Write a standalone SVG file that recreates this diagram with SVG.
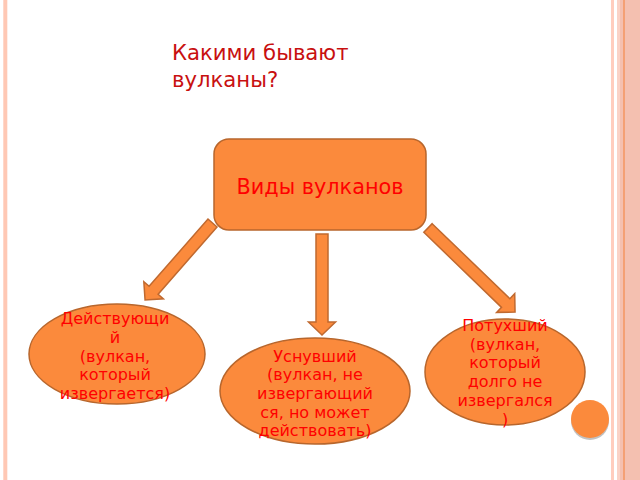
<svg xmlns="http://www.w3.org/2000/svg" width="640" height="480" viewBox="0 0 640 480">
  <defs>
    <style>
      .shape { fill: #FB8A3C; stroke: #B8662C; stroke-width: 1.5; }
      .arrow { fill: #FB8A3C; stroke: #C0692F; stroke-width: 1.5; stroke-linejoin: miter; }
      .title { font-family: "DejaVu Sans", sans-serif; font-size: 21.2px; fill: #C81010; }
      .main { font-family: "DejaVu Sans", sans-serif; font-size: 20.8px; fill: #FF0000; text-anchor: middle; }
      .lbl { font-family: "DejaVu Sans", sans-serif; font-size: 16px; fill: #FF0000; text-anchor: middle; }
    </style>
  </defs>

  <!-- background and frame -->
  <rect x="0" y="0" width="640" height="480" fill="#FFFFFF"/>
  <rect x="3.3" y="0" width="4" height="480" fill="#FFC8B4"/>
  <rect x="611" y="0" width="3" height="480" fill="#FFCDBE"/>
  <rect x="617" y="0" width="3" height="480" fill="#FAD2C6"/>
  <rect x="620" y="0" width="20" height="480" fill="#F4C0B0"/>
  <rect x="623" y="0" width="2" height="480" fill="#F4A074"/>

  <!-- title -->
  <g id="title">
    <text class="title" x="172" y="60">Какими бывают</text>
    <text class="title" x="172" y="87">вулканы?</text>
  </g>

  <!-- connectors -->
  <g id="connectors">
    <polygon class="arrow" transform="translate(212.5,223) rotate(131.2)" points="0,-6 89.4,-6 89.4,-13 102.4,0 89.4,13 89.4,6 0,6"/>
    <polygon class="arrow" transform="translate(322,234) rotate(90)" points="0,-6 88,-6 88,-13.5 101,0 88,13.5 88,6 0,6"/>
    <polygon class="arrow" transform="translate(428,228) rotate(44)" points="0,-6 108,-6 108,-13 121,0 108,13 108,6 0,6"/>
  </g>

  <!-- main node -->
  <g id="node-main">
    <rect class="shape" x="214" y="139" width="212" height="91" rx="15" ry="15"/>
    <text class="main" x="320" y="194">Виды вулканов</text>
  </g>

  <!-- active volcano -->
  <g id="node-active">
    <ellipse class="shape" cx="117" cy="354" rx="88" ry="50"/>
    <text class="lbl" x="115" y="324">Действующи</text>
    <text class="lbl" x="115" y="343">й</text>
    <text class="lbl" x="115" y="362">(вулкан,</text>
    <text class="lbl" x="115" y="380">который</text>
    <text class="lbl" x="115" y="399">извергается)</text>
  </g>

  <!-- dormant volcano -->
  <g id="node-dormant">
    <ellipse class="shape" cx="315" cy="391" rx="95" ry="53"/>
    <text class="lbl" x="315" y="362">Уснувший</text>
    <text class="lbl" x="315" y="380">(вулкан, не</text>
    <text class="lbl" x="315" y="399">извергающий</text>
    <text class="lbl" x="315" y="418">ся, но может</text>
    <text class="lbl" x="315" y="436">действовать)</text>
  </g>

  <!-- extinct volcano -->
  <g id="node-extinct">
    <ellipse class="shape" cx="505" cy="372" rx="80" ry="53"/>
    <text class="lbl" x="505" y="331">Потухший</text>
    <text class="lbl" x="505" y="350">(вулкан,</text>
    <text class="lbl" x="505" y="368">который</text>
    <text class="lbl" x="505" y="387">долго не</text>
    <text class="lbl" x="505" y="406">извергался</text>
    <text class="lbl" x="505" y="425">)</text>
  </g>

  <!-- decorative circle -->
  <g id="decor">
    <circle cx="590" cy="421" r="19" fill="#9A9A9A" opacity="0.6"/>
    <circle cx="590" cy="419" r="19" fill="#FB8A3C"/>
  </g>
</svg>
